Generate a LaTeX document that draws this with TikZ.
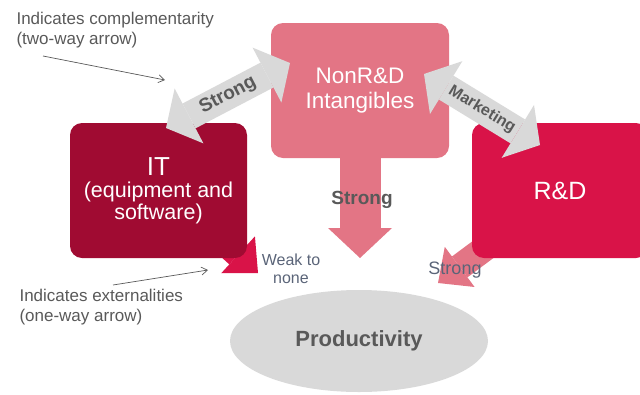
\documentclass[tikz,border=0pt]{standalone}
\usepackage{fontspec}
\setmainfont{Liberation Sans}
\usetikzlibrary{positioning,shapes.geometric,arrows.meta,backgrounds}
\definecolor{pinkbox}{HTML}{E37585}
\definecolor{winebox}{HTML}{A00B32}
\definecolor{redbox}{HTML}{D91348}
\definecolor{greyfill}{HTML}{D9D9D9}
\definecolor{greytext}{HTML}{595959}
\definecolor{bluetext}{HTML}{5A6478}
\tikzset{
  box/.style={rectangle,rounded corners=12pt,text=white,align=center,inner sep=0pt},
  twoway/.style={draw=greyfill,line width=28pt,{Triangle[width=62pt,length=26pt,line width=0pt]}-{Triangle[width=62pt,length=26pt,line width=0pt]}},
  oneway/.style={line width=26pt,-{Triangle[width=50pt,length=27pt,line width=0pt]}},
  note/.style={align=left,text=greytext,font=\fontsize{17}{20.5}\selectfont},
  pointer/.style={draw=greytext,line width=0.7pt,-{Straight Barb[length=6pt,width=8pt]}}
}

\begin{document}
\begin{tikzpicture}[x=1pt,y=-1pt]
\useasboundingbox (0,0) rectangle (640,394);
\clip (0,0) rectangle (640,394);
\node[box,fill=pinkbox,minimum width=178pt,minimum height=135pt,font=\fontsize{22.5}{25}\selectfont] (nonrd) at (360,90.5) {NonR\&D\\Intangibles};
\node[box,fill=winebox,minimum width=177pt,minimum height=135pt,font=\fontsize{21.5}{22}\selectfont] (it) at (158.5,190.5) {{\fontsize{26}{27}\selectfont IT}\\(equipment and\\software)};
\node[box,fill=redbox,minimum width=176pt,minimum height=135pt,font=\fontsize{25}{28}\selectfont] (rd) at (560,190.5) {R\&D};
\node[ellipse,fill=greyfill,minimum width=258pt,minimum height=102pt,inner sep=0pt,text=greytext,font=\fontsize{22}{24}\selectfont\bfseries] (prod) at (359,341) {Productivity};

\coordinate (weaktail) at (200,220);
\coordinate (weaktip) at (258,273);
\coordinate (rdtail) at (502,235.5);
\coordinate (rdtip) at (438,283);
\coordinate (downtip) at (360,258);
\begin{scope}[on background layer]
\draw[oneway,draw=redbox] (weaktail) -- (weaktip);
\draw[oneway,draw=pinkbox] (rdtail) -- (rdtip);
\end{scope}
\draw[pinkbox,line width=41pt,-{Triangle[width=64pt,length=30pt,line width=0pt]}] (nonrd.south) -- (downtip);
\node[text=greytext,font=\fontsize{19}{21}\selectfont\bfseries] (strongdown) at (362,200) {Strong};

\coordinate (itend) at (166,128);
\coordinate (nonrdleft) at (290,63);
\coordinate (nonrdright) at (424,74);
\coordinate (rdend) at (540,145);
\draw[twoway] (itend) -- (nonrdleft) node[midway,sloped,text=greytext,font=\fontsize{19}{21}\selectfont\bfseries] (stronglbl) {Strong};
\draw[twoway] (nonrdright) -- (rdend) node[midway,sloped,text=greytext,font=\fontsize{16}{18}\selectfont\bfseries] (marketlbl) {Marketing};

\node[text=bluetext,align=center,font=\fontsize{16}{18}\selectfont] (weaklbl) at (291,269) {Weak to\\none};
\node[text=bluetext,font=\fontsize{18}{20}\selectfont] (rdlbl) at (455,270) {Strong};

\node[note,anchor=west] (compnote) at (13,30) {Indicates complementarity\\(two-way arrow)};
\node[note,anchor=west] (extnote) at (16,307) {Indicates externalities\\(one-way arrow)};
\coordinate (comptail) at (43,56);
\coordinate (comphead) at (165,80);
\coordinate (exttail) at (113,285);
\coordinate (exthead) at (208,270);
\draw[pointer] (comptail) -- (comphead);
\draw[pointer] (exttail) -- (exthead);
\end{tikzpicture}
\end{document}
